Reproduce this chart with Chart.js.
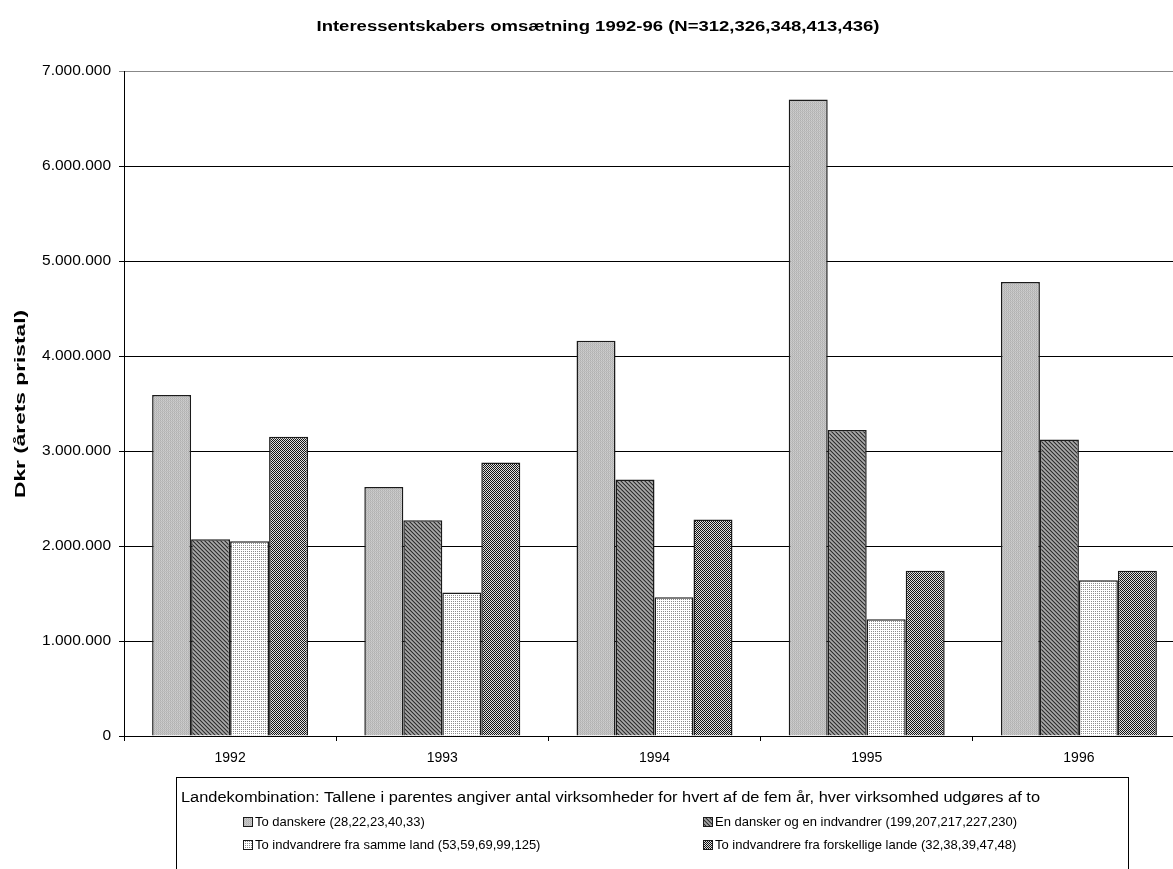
<!DOCTYPE html>
<html>
<head>
<meta charset="utf-8">
<title>Interessentskabers omsætning 1992-96</title>
<script src="https://cdn.jsdelivr.net/npm/chart.js@4/dist/chart.umd.min.js"></script>
<style>
  html, body { margin: 0; padding: 0; background: #fff; overflow: hidden; }
  #wrap { width: 1190px; height: 869px; }
</style>
</head>
<body>
<div id="wrap"><canvas id="c" width="1190" height="869"></canvas></div>
<script>
// Years on the category axis
const years = ['1992', '1993', '1994', '1995', '1996'];

// Turnover (Dkr, current prices) per partnership type
const toDanskere = [3590000, 2620000, 4160000, 6700000, 4780000];
const danskerOgIndvandrer = [2070000, 2270000, 2700000, 3220000, 3120000];
const indvandrereSammeLand = [2050000, 1510000, 1460000, 1230000, 1640000];
const indvandrereForskelligeLande = [3150000, 2880000, 2280000, 1740000, 1740000];

const seriesLabels = [
  'To danskere (28,22,23,40,33)',
  'En dansker og en indvandrer (199,207,217,227,230)',
  'To indvandrere fra samme land (53,59,69,99,125)',
  'To indvandrere fra forskellige lande (32,38,39,47,48)'
];

const chartTitle = 'Interessentskabers omsætning 1992-96 (N=312,326,348,413,436)';
const yTitle = 'Dkr (årets pristal)';
const legendHeading = 'Landekombination: Tallene i parentes angiver antal virksomheder for hvert af de fem år, hver virksomhed udgøres af to';

const FONT = '"Liberation Sans", Arial, sans-serif';

// Small pixel tiles used as bar fills
function makePattern(grid) {
  const size = grid.length;
  const cv = document.createElement('canvas');
  cv.width = size; cv.height = size;
  const g = cv.getContext('2d');
  for (let y = 0; y < size; y++) {
    for (let x = 0; x < size; x++) {
      g.fillStyle = grid[y][x];
      g.fillRect(x, y, 1, 1);
    }
  }
  return g.createPattern(cv, 'repeat');
}

const ctx = document.getElementById('c').getContext('2d');

const fills = [
  makePattern([
    ['#b0b0b0', '#cecece'],
    ['#c2c2c2', '#bababa']
  ]),
  makePattern([
    ['#303030', '#909090', '#a8a8a8', '#7c7c7c'],
    ['#7c7c7c', '#303030', '#909090', '#a8a8a8'],
    ['#a8a8a8', '#7c7c7c', '#303030', '#909090'],
    ['#909090', '#a8a8a8', '#7c7c7c', '#303030']
  ]),
  makePattern([
    ['#ffffff', '#ffffff'],
    ['#ffffff', '#8c8c8c']
  ]),
  makePattern([
    ['#141414', '#e0e0e0'],
    ['#e0e0e0', '#141414']
  ])
];

const seriesData = [toDanskere, danskerOgIndvandrer, indvandrereSammeLand, indvandrereForskelligeLande];

const datasets = seriesData.map((d, i) => ({
  label: seriesLabels[i],
  data: d,
  backgroundColor: fills[i],
  borderColor: '#1a1a1a',
  borderWidth: 1.5,
  borderSkipped: 'bottom',
  barPercentage: 1.0,
  categoryPercentage: 0.735
}));

function fmtDots(v) {
  return String(Math.round(v)).replace(/\B(?=(\d{3})+(?!\d))/g, '.');
}

// Text drawn with a fixed target width along its reading direction
function fitText(c, text, x, y, width, align) {
  const w = c.measureText(text).width;
  const sx = width / w;
  c.save();
  c.translate(x, y);
  c.scale(sx, 1);
  c.textAlign = align;
  c.fillText(text, 0, 0);
  c.restore();
}

// Title, y-axis title and the boxed legend underneath the plot
const decorations = {
  id: 'decorations',
  afterDraw(chart) {
    const c = chart.ctx;
    c.save();
    c.fillStyle = '#000';
    c.textBaseline = 'middle';

    c.font = 'bold 15px ' + FONT;
    fitText(c, chartTitle, 598, 27, 563, 'center');

    c.save();
    c.translate(21, 404);
    c.rotate(-Math.PI / 2);
    c.font = 'bold 14px ' + FONT;
    fitText(c, yTitle, 0, 0, 188, 'center');
    c.restore();

    // legend box
    c.strokeStyle = '#000';
    c.lineWidth = 1;
    c.strokeRect(176.5, 777.5, 952, 140);

    c.font = '14px ' + FONT;
    fitText(c, legendHeading, 181, 798, 859, 'left');

    c.font = '13px ' + FONT;
    c.textAlign = 'left';
    const cols = [243, 703];
    const rows = [822, 845];
    chart.data.datasets.forEach((ds, i) => {
      const x = cols[i % 2];
      const y = rows[Math.floor(i / 2)];
      c.fillStyle = ds.backgroundColor;
      c.fillRect(x, y - 4, 9, 9);
      c.strokeStyle = '#1a1a1a';
      c.lineWidth = 1;
      c.strokeRect(x + 0.5, y - 4.5, 9, 9);
      c.fillStyle = '#000';
      c.fillText(ds.label, x + 12, y);
    });
    c.restore();
  }
};

new Chart(ctx, {
  type: 'bar',
  data: { labels: years, datasets },
  plugins: [decorations],
  options: {
    responsive: false,
    animation: false,
    layout: { padding: { top: 71, left: 0, right: 5, bottom: 0 } },
    plugins: {
      legend: { display: false },
      title: { display: false },
      tooltip: { enabled: false }
    },
    scales: {
      x: {
        grid: {
          offset: true,
          drawOnChartArea: false,
          drawTicks: true,
          tickLength: 5,
          color: '#000'
        },
        border: { display: true, color: '#000', width: 1 },
        ticks: {
          color: '#000',
          font: { family: FONT, size: 14 },
          padding: 9,
          maxRotation: 0
        },
        afterFit(scale) { scale.height = 133; }
      },
      y: {
        min: 0,
        max: 7000000,
        grid: {
          color: ctx => ctx.tick && ctx.tick.value === 7000000 ? '#888' : '#000',
          lineWidth: 1,
          drawTicks: true,
          tickLength: 5
        },
        border: { display: true, color: '#000', width: 1 },
        ticks: {
          stepSize: 1000000,
          color: '#000',
          font: { family: FONT, size: 15.5 },
          padding: 8,
          callback: v => fmtDots(v)
        },
        afterFit(scale) { scale.width = 124; }
      }
    }
  }
});
</script>
</body>
</html>
